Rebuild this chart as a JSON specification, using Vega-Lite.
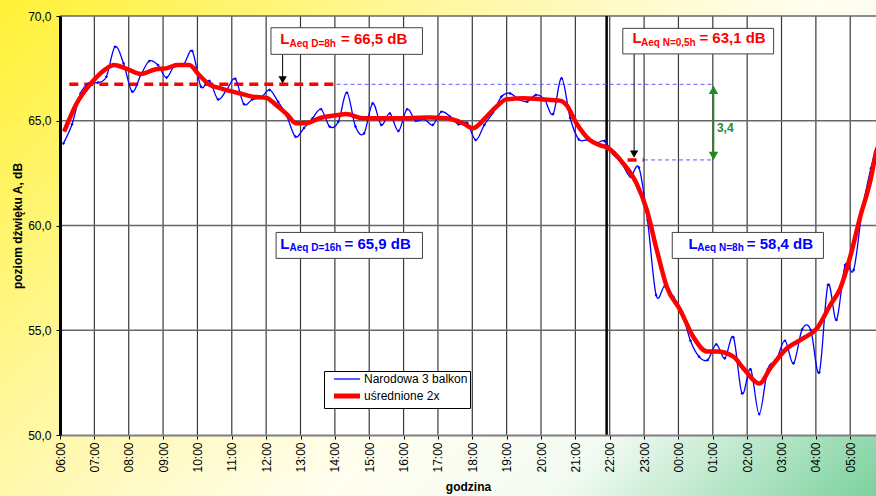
{
  "$schema": "https://vega.github.io/schema/vega-lite/v6.json",
  "width": 816,
  "height": 419,
  "autosize": {"type": "none"},
  "padding": {"left": 60, "top": 16, "right": 0, "bottom": 61},
  "background": "#ffffff",
  "config": {
    "font": "Liberation Sans",
    "view": {"stroke": null},
    "axis": {"labelFont": "Liberation Sans", "titleFont": "Liberation Sans"},
    "axisX": {"labelAngle": 270, "labelFontSize": 12, "labelColor": "#000000", "labelPadding": 3,
      "tickCount": 24, "labelExpr": "(((6+datum.value)%24)<10?'0':'')+((6+datum.value)%24)+':00'",
      "tickSize": 4, "tickColor": "#000000", "tickWidth": 1, "domainColor": "#7f7f7f", "domainWidth": 2,
      "grid": false, "titleFontSize": 12, "titleFontWeight": "bold", "titleColor": "#000000", "titlePadding": 9,
      "labelOverlap": false, "labelFlush": false, "labelBound": false, "zindex": 1},
    "axisY": {"labelFontSize": 12, "labelColor": "#000000", "labelPadding": 5,
      "labelExpr": "replace(format(datum.value,'.1f'),'.',',')",
      "tickSize": 4, "tickColor": "#000000", "domainColor": "#000000", "domainWidth": 3,
      "grid": false, "titleFontSize": 12, "titleFontWeight": "bold", "titleColor": "#000000", "titlePadding": 3,
      "labelFlush": false, "labelOverlap": false, "zindex": 1},
    "legend": {"labelFont": "Liberation Sans"}
  },
  "datasets": {
    "blue": [
      {"h":0.1,"v":63.92},{"h":0.35,"v":64.83},{"h":0.6,"v":66.31},{"h":0.85,"v":66.79},{"h":1.1,"v":66.82},{"h":1.35,"v":67.1},{"h":1.6,"v":68.53},{"h":1.85,"v":67.74},
      {"h":2.1,"v":66.39},{"h":2.35,"v":67.18},{"h":2.6,"v":67.85},{"h":2.85,"v":67.66},{"h":3.1,"v":67.06},{"h":3.35,"v":67.69},{"h":3.6,"v":67.69},{"h":3.85,"v":68.33},
      {"h":4.1,"v":66.63},{"h":4.35,"v":66.9},{"h":4.6,"v":66.02},{"h":4.85,"v":66.47},{"h":5.1,"v":67.0},{"h":5.35,"v":65.8},{"h":5.6,"v":66.02},{"h":5.85,"v":66.1},
      {"h":6.1,"v":66.47},{"h":6.35,"v":65.9},{"h":6.6,"v":65.23},{"h":6.85,"v":64.24},{"h":7.1,"v":64.65},{"h":7.35,"v":65.12},{"h":7.6,"v":65.55},{"h":7.85,"v":64.72},
      {"h":8.1,"v":64.95},{"h":8.35,"v":66.34},{"h":8.6,"v":64.72},{"h":8.85,"v":64.4},{"h":9.1,"v":65.83},{"h":9.35,"v":64.8},{"h":9.6,"v":65.35},{"h":9.85,"v":64.51},
      {"h":10.1,"v":65.55},{"h":10.35,"v":65.0},{"h":10.6,"v":65.08},{"h":10.85,"v":64.8},{"h":11.1,"v":65.43},{"h":11.35,"v":65.2},{"h":11.6,"v":64.83},{"h":11.85,"v":64.9},
      {"h":12.1,"v":64.08},{"h":12.35,"v":64.8},{"h":12.6,"v":65.38},{"h":12.85,"v":66.15},{"h":13.1,"v":66.31},{"h":13.35,"v":66.02},{"h":13.6,"v":65.91},{"h":13.85,"v":66.23},
      {"h":14.1,"v":66.02},{"h":14.35,"v":65.32},{"h":14.6,"v":67.03},{"h":14.85,"v":65.12},{"h":15.1,"v":64.11},{"h":15.35,"v":64.08},{"h":15.6,"v":63.92},{"h":15.85,"v":64.03},
      {"h":16.1,"v":63.4},{"h":16.35,"v":62.97},{"h":16.6,"v":62.33},{"h":16.85,"v":62.76},{"h":17.1,"v":60.26},{"h":17.35,"v":56.68},{"h":17.6,"v":57.11},{"h":17.85,"v":56.6},
      {"h":18.1,"v":55.89},{"h":18.35,"v":54.5},{"h":18.6,"v":53.74},{"h":18.85,"v":53.58},{"h":19.1,"v":54.33},{"h":19.35,"v":53.66},{"h":19.6,"v":54.66},{"h":19.85,"v":51.99},
      {"h":20.1,"v":53.14},{"h":20.35,"v":51.0},{"h":20.6,"v":53.14},{"h":20.85,"v":53.58},{"h":21.1,"v":54.5},{"h":21.35,"v":53.42},{"h":21.6,"v":55.04},{"h":21.85,"v":55.01},
      {"h":22.1,"v":52.99},{"h":22.35,"v":57.16},{"h":22.6,"v":55.49},{"h":22.85,"v":58.11},{"h":23.1,"v":57.88},{"h":23.35,"v":60.74},{"h":23.6,"v":62.73},{"h":23.85,"v":64.3}
    ],
    "red": [
      {"h":0.12,"v":64.48},{"h":0.46,"v":65.75},{"h":0.94,"v":66.86},{"h":1.33,"v":67.47},{"h":1.57,"v":67.66},{"h":1.91,"v":67.5},{"h":2.35,"v":67.23},{"h":2.79,"v":67.46},
      {"h":3.08,"v":67.5},{"h":3.42,"v":67.66},{"h":3.76,"v":67.66},{"h":4.05,"v":67.18},{"h":4.34,"v":66.74},{"h":4.73,"v":66.52},{"h":5.22,"v":66.31},{"h":5.61,"v":66.15},
      {"h":6.0,"v":66.1},{"h":6.29,"v":65.75},{"h":6.63,"v":65.27},{"h":6.87,"v":64.88},{"h":7.16,"v":64.88},{"h":7.55,"v":65.12},{"h":8.08,"v":65.27},{"h":8.33,"v":65.32},
      {"h":8.81,"v":65.12},{"h":9.79,"v":65.12},{"h":10.76,"v":65.15},{"h":11.24,"v":65.12},{"h":11.73,"v":64.88},{"h":12.02,"v":64.64},{"h":12.41,"v":65.19},{"h":12.7,"v":65.67},
      {"h":12.99,"v":66.02},{"h":13.48,"v":66.07},{"h":14.06,"v":66.02},{"h":14.55,"v":65.96},{"h":14.74,"v":65.75},{"h":15.03,"v":64.88},{"h":15.42,"v":64.08},{"h":15.71,"v":63.84},
      {"h":15.91,"v":63.73},{"h":16.39,"v":62.97},{"h":16.78,"v":62.01},{"h":17.08,"v":60.74},{"h":17.37,"v":58.83},{"h":17.66,"v":57.08},{"h":18.05,"v":55.97},{"h":18.43,"v":54.69},
      {"h":18.83,"v":53.98},{"h":19.12,"v":53.98},{"h":19.6,"v":53.74},{"h":19.89,"v":53.18},{"h":20.36,"v":52.46},{"h":20.67,"v":53.18},{"h":21.16,"v":54.14},{"h":21.64,"v":54.62},
      {"h":22.03,"v":55.09},{"h":22.42,"v":56.21},{"h":22.71,"v":57.0},{"h":23.0,"v":58.51},{"h":23.29,"v":60.42},{"h":23.59,"v":62.17},{"h":23.76,"v":63.6}
    ]
  },
  "layer": [
    {
      "data": {"values": [{"h": -1.75, "h2": 23.75, "v": 70.77, "v2": 47.08}]},
      "mark": {"type": "rect", "clip": false, "strokeWidth": 0,
        "fill": {"gradient": "linear", "x1": 0, "y1": 0, "x2": 1.186, "y2": 0.671,
          "stops": [
            {"offset": 0, "color": "#FFF135"},
            {"offset": 0.35, "color": "#FFF8A8"},
            {"offset": 0.6, "color": "#FFFEF0"},
            {"offset": 0.76, "color": "#F4FBF3"},
            {"offset": 1, "color": "#7CD19E"}
          ]}},
      "encoding": {
        "x": {"field": "h", "type": "quantitative", "scale": {"domain": [0, 23.75], "nice": false, "zero": false},
          "axis": {"title": "godzina", "values": [0,1,2,3,4,5,6,7,8,9,10,11,12,13,14,15,16,17,18,19,20,21,22,23],
            "labelExpr": "(((6+datum.value)%24)<10?'0':'')+((6+datum.value)%24)+':00'",
            "labelAngle": 270, "labelFontSize": 12, "labelColor": "#000000", "labelPadding": 3,
            "tickSize": 4, "tickColor": "#000000", "tickWidth": 1, "domainColor": "#7f7f7f", "domainWidth": 2,
            "grid": false, "titleFontSize": 12, "titleFontWeight": "bold", "titleColor": "#000000", "titlePadding": 9,
            "labelOverlap": false, "labelFlush": false, "labelBound": false, "zindex": 1}},
        "x2": {"field": "h2"},
        "y": {"field": "v", "type": "quantitative", "scale": {"domain": [50, 70], "nice": false, "zero": false},
          "axis": {"title": "poziom dźwięku A, dB", "values": [50, 55, 60, 65, 70],
            "labelExpr": "replace(format(datum.value,'.1f'),'.',',')",
            "labelFontSize": 12, "labelColor": "#000000", "labelPadding": 5,
            "tickSize": 4, "tickColor": "#000000", "domainColor": "#000000", "domainWidth": 3,
            "grid": false, "titleFontSize": 12, "titleFontWeight": "bold", "titleColor": "#000000", "titlePadding": 3,
            "labelFlush": false, "labelOverlap": false, "zindex": 1}},
        "y2": {"field": "v2"}
      }
    },
    {
      "data": {"values": [{"h": 0, "h2": 23.75, "v": 70, "v2": 50}]},
      "mark": {"type": "rect", "fill": "#ffffff", "strokeWidth": 0},
      "encoding": {
        "x": {"field": "h", "type": "quantitative", "scale": {"domain": [0, 23.75], "nice": false, "zero": false}},
        "x2": {"field": "h2"},
        "y": {"field": "v", "type": "quantitative", "scale": {"domain": [50, 70], "nice": false, "zero": false}},
        "y2": {"field": "v2"}
      }
    },
    {
      "data": {"values": [{"h":1},{"h":2},{"h":3},{"h":4},{"h":5},{"h":6},{"h":7},{"h":8},{"h":9},{"h":10},{"h":11},{"h":12},{"h":13},{"h":14},{"h":15},{"h":16},{"h":17},{"h":18},{"h":19},{"h":20},{"h":21},{"h":22},{"h":23}]},
      "mark": {"type": "rule", "color": "#3a3a3a", "strokeWidth": 1.2},
      "encoding": {
        "x": {"field": "h", "type": "quantitative", "scale": {"domain": [0, 23.75], "nice": false, "zero": false}}
      }
    },
    {
      "data": {"values": [{"v": 55}, {"v": 60}, {"v": 65}, {"v": 70}]},
      "mark": {"type": "rule", "color": "#666666", "strokeWidth": 1.5},
      "encoding": {
        "y": {"field": "v", "type": "quantitative", "scale": {"domain": [50, 70], "nice": false, "zero": false}}
      }
    },
    {
      "data": {"values": [{"h": 15.91}]},
      "mark": {"type": "rule", "color": "#000000", "strokeWidth": 2.5},
      "encoding": {
        "x": {"field": "h", "type": "quantitative", "scale": {"domain": [0, 23.75], "nice": false, "zero": false}}
      }
    },
    {
      "data": {"values": [{"h": 8.05, "h2": 19.02, "v": 66.74}, {"h": 17.0, "h2": 19.02, "v": 63.13}]},
      "mark": {"type": "rule", "color": "#5a5aff", "strokeWidth": 1, "strokeDash": [4, 3]},
      "encoding": {
        "x": {"field": "h", "type": "quantitative", "scale": {"domain": [0, 23.75], "nice": false, "zero": false}},
        "x2": {"field": "h2"},
        "y": {"field": "v", "type": "quantitative", "scale": {"domain": [50, 70], "nice": false, "zero": false}}
      }
    },
    {
      "data": {"values": [{"h": 0.27, "h2": 8.05, "v": 66.74}, {"h": 16.52, "h2": 17.0, "v": 63.13}]},
      "mark": {"type": "rule", "color": "#ff0000", "strokeWidth": 3.5, "strokeDash": [9, 6]},
      "encoding": {
        "x": {"field": "h", "type": "quantitative", "scale": {"domain": [0, 23.75], "nice": false, "zero": false}},
        "x2": {"field": "h2"},
        "y": {"field": "v", "type": "quantitative", "scale": {"domain": [50, 70], "nice": false, "zero": false}}
      }
    },
    {
      "data": {"name": "blue"},
      "mark": {"type": "line", "interpolate": "cardinal", "strokeWidth": 1.3, "clip": true},
      "encoding": {
        "x": {"field": "h", "type": "quantitative", "scale": {"domain": [0, 23.75], "nice": false, "zero": false}},
        "y": {"field": "v", "type": "quantitative", "scale": {"domain": [50, 70], "nice": false, "zero": false}},
        "color": {"datum": "Narodowa 3 balkon", "type": "nominal",
          "scale": {"domain": ["Narodowa 3 balkon", "uśrednione 2x"], "range": ["#0000ff", "#ff0000"]},
          "legend": {"title": null, "orient": "none", "legendX": 264, "legendY": 355, "direction": "vertical",
            "fillColor": "#ffffff", "strokeColor": "#000000", "padding": 2,
            "symbolType": "stroke", "symbolSize": 676, "symbolStrokeWidth": 2, "symbolOffset": 15,
            "labelFontSize": 12, "labelColor": "#000000", "labelOffset": 11, "rowPadding": 1,
            "encode": {"symbols": {"update": {"strokeWidth": {"signal": "datum.value === 'uśrednione 2x' ? 5 : 1.3"}}}}}
        }
      }
    },
    {
      "data": {"name": "blue"},
      "mark": {"type": "point", "shape": "diamond", "size": 10, "filled": true, "color": "#0000ff", "opacity": 1, "clip": true},
      "encoding": {
        "x": {"field": "h", "type": "quantitative", "scale": {"domain": [0, 23.75], "nice": false, "zero": false}},
        "y": {"field": "v", "type": "quantitative", "scale": {"domain": [50, 70], "nice": false, "zero": false}}
      }
    },
    {
      "data": {"name": "red"},
      "mark": {"type": "line", "interpolate": "monotone", "strokeWidth": 4.5, "clip": true},
      "encoding": {
        "x": {"field": "h", "type": "quantitative", "scale": {"domain": [0, 23.75], "nice": false, "zero": false}},
        "y": {"field": "v", "type": "quantitative", "scale": {"domain": [50, 70], "nice": false, "zero": false}},
        "color": {"datum": "uśrednione 2x", "type": "nominal",
          "scale": {"domain": ["Narodowa 3 balkon", "uśrednione 2x"], "range": ["#0000ff", "#ff0000"]},
          "legend": {"title": null, "orient": "none", "legendX": 264, "legendY": 355, "direction": "vertical",
            "fillColor": "#ffffff", "strokeColor": "#000000", "padding": 2,
            "symbolType": "stroke", "symbolSize": 676, "symbolStrokeWidth": 2, "symbolOffset": 15,
            "labelFontSize": 12, "labelColor": "#000000", "labelOffset": 11, "rowPadding": 1,
            "encode": {"symbols": {"update": {"strokeWidth": {"signal": "datum.value === 'uśrednione 2x' ? 5 : 1.3"}}}}}
        }
      }
    },
    {
      "data": {"values": [{"h": 6.48, "v": 68.17, "v2": 66.95}, {"h": 16.71, "v": 68.19, "v2": 63.41}]},
      "mark": {"type": "rule", "color": "#000000", "strokeWidth": 1},
      "encoding": {
        "x": {"field": "h", "type": "quantitative", "scale": {"domain": [0, 23.75], "nice": false, "zero": false}},
        "y": {"field": "v", "type": "quantitative", "scale": {"domain": [50, 70], "nice": false, "zero": false}},
        "y2": {"field": "v2"}
      }
    },
    {
      "data": {"values": [{"h": 6.48, "v": 66.95}, {"h": 16.71, "v": 63.41}]},
      "mark": {"type": "point", "shape": "triangle-down", "size": 70, "filled": true, "color": "#000000", "opacity": 1},
      "encoding": {
        "x": {"field": "h", "type": "quantitative", "scale": {"domain": [0, 23.75], "nice": false, "zero": false}},
        "y": {"field": "v", "type": "quantitative", "scale": {"domain": [50, 70], "nice": false, "zero": false}}
      }
    },
    {
      "data": {"values": [{"h": 19.02, "v": 66.6, "v2": 63.3}]},
      "mark": {"type": "rule", "color": "#1e8c1e", "strokeWidth": 1.6},
      "encoding": {
        "x": {"field": "h", "type": "quantitative", "scale": {"domain": [0, 23.75], "nice": false, "zero": false}},
        "y": {"field": "v", "type": "quantitative", "scale": {"domain": [50, 70], "nice": false, "zero": false}},
        "y2": {"field": "v2"}
      }
    },
    {
      "data": {"values": [{"h": 19.02, "v": 66.47}]},
      "mark": {"type": "point", "shape": "triangle-up", "size": 90, "filled": true, "color": "#1e8c1e", "opacity": 1},
      "encoding": {
        "x": {"field": "h", "type": "quantitative", "scale": {"domain": [0, 23.75], "nice": false, "zero": false}},
        "y": {"field": "v", "type": "quantitative", "scale": {"domain": [50, 70], "nice": false, "zero": false}}
      }
    },
    {
      "data": {"values": [{"h": 19.02, "v": 63.32}]},
      "mark": {"type": "point", "shape": "triangle-down", "size": 90, "filled": true, "color": "#1e8c1e", "opacity": 1},
      "encoding": {
        "x": {"field": "h", "type": "quantitative", "scale": {"domain": [0, 23.75], "nice": false, "zero": false}},
        "y": {"field": "v", "type": "quantitative", "scale": {"domain": [50, 70], "nice": false, "zero": false}}
      }
    },
    {
      "data": {"values": [{"h": 19.12, "v": 64.46, "t": "3,4"}]},
      "mark": {"type": "text", "align": "left", "baseline": "alphabetic", "fontSize": 12, "fontWeight": "bold", "color": "#1e8c1e", "font": "Liberation Sans"},
      "encoding": {
        "x": {"field": "h", "type": "quantitative", "scale": {"domain": [0, 23.75], "nice": false, "zero": false}},
        "y": {"field": "v", "type": "quantitative", "scale": {"domain": [50, 70], "nice": false, "zero": false}},
        "text": {"field": "t"}
      }
    },
    {
      "data": {"values": [
        {"h": 6.14, "h2": 10.55, "v": 69.44, "v2": 68.17},
        {"h": 16.38, "h2": 20.77, "v": 69.41, "v2": 68.19},
        {"h": 6.29, "h2": 10.55, "v": 59.67, "v2": 58.43},
        {"h": 17.82, "h2": 22.22, "v": 59.67, "v2": 58.43}
      ]},
      "mark": {"type": "rect", "fill": "#ffffff", "stroke": "#404040", "strokeWidth": 1},
      "encoding": {
        "x": {"field": "h", "type": "quantitative", "scale": {"domain": [0, 23.75], "nice": false, "zero": false}},
        "x2": {"field": "h2"},
        "y": {"field": "v", "type": "quantitative", "scale": {"domain": [50, 70], "nice": false, "zero": false}},
        "y2": {"field": "v2"}
      }
    },
    {
      "data": {"values": [
        {"h": 6.41, "v": 68.67, "t": "L"}, {"h": 8.18, "v": 68.67, "t": "= 66,5 dB"},
        {"h": 16.66, "v": 68.69, "t": "L"}, {"h": 18.61, "v": 68.69, "t": "= 63,1 dB"}
      ]},
      "mark": {"type": "text", "align": "left", "baseline": "alphabetic", "fontSize": 15, "fontWeight": "bold", "color": "#ff0000", "font": "Liberation Sans"},
      "encoding": {
        "x": {"field": "h", "type": "quantitative", "scale": {"domain": [0, 23.75], "nice": false, "zero": false}},
        "y": {"field": "v", "type": "quantitative", "scale": {"domain": [50, 70], "nice": false, "zero": false}},
        "text": {"field": "t"}
      }
    },
    {
      "data": {"values": [
        {"h": 6.68, "v": 68.54, "t": "Aeq D=8h"},
        {"h": 16.91, "v": 68.56, "t": "Aeq N=0,5h"}
      ]},
      "mark": {"type": "text", "align": "left", "baseline": "alphabetic", "fontSize": 10, "fontWeight": "bold", "color": "#ff0000", "font": "Liberation Sans"},
      "encoding": {
        "x": {"field": "h", "type": "quantitative", "scale": {"domain": [0, 23.75], "nice": false, "zero": false}},
        "y": {"field": "v", "type": "quantitative", "scale": {"domain": [50, 70], "nice": false, "zero": false}},
        "text": {"field": "t"}
      }
    },
    {
      "data": {"values": [
        {"h": 6.41, "v": 58.88, "t": "L"}, {"h": 8.28, "v": 58.88, "t": "= 65,9 dB"},
        {"h": 18.29, "v": 58.88, "t": "L"}, {"h": 19.99, "v": 58.88, "t": "= 58,4 dB"}
      ]},
      "mark": {"type": "text", "align": "left", "baseline": "alphabetic", "fontSize": 15, "fontWeight": "bold", "color": "#0000ff", "font": "Liberation Sans"},
      "encoding": {
        "x": {"field": "h", "type": "quantitative", "scale": {"domain": [0, 23.75], "nice": false, "zero": false}},
        "y": {"field": "v", "type": "quantitative", "scale": {"domain": [50, 70], "nice": false, "zero": false}},
        "text": {"field": "t"}
      }
    },
    {
      "data": {"values": [
        {"h": 6.68, "v": 58.79, "t": "Aeq D=16h"},
        {"h": 18.55, "v": 58.79, "t": "Aeq N=8h"}
      ]},
      "mark": {"type": "text", "align": "left", "baseline": "alphabetic", "fontSize": 10, "fontWeight": "bold", "color": "#0000ff", "font": "Liberation Sans"},
      "encoding": {
        "x": {"field": "h", "type": "quantitative", "scale": {"domain": [0, 23.75], "nice": false, "zero": false}},
        "y": {"field": "v", "type": "quantitative", "scale": {"domain": [50, 70], "nice": false, "zero": false}},
        "text": {"field": "t"}
      }
    }
  ]
}
